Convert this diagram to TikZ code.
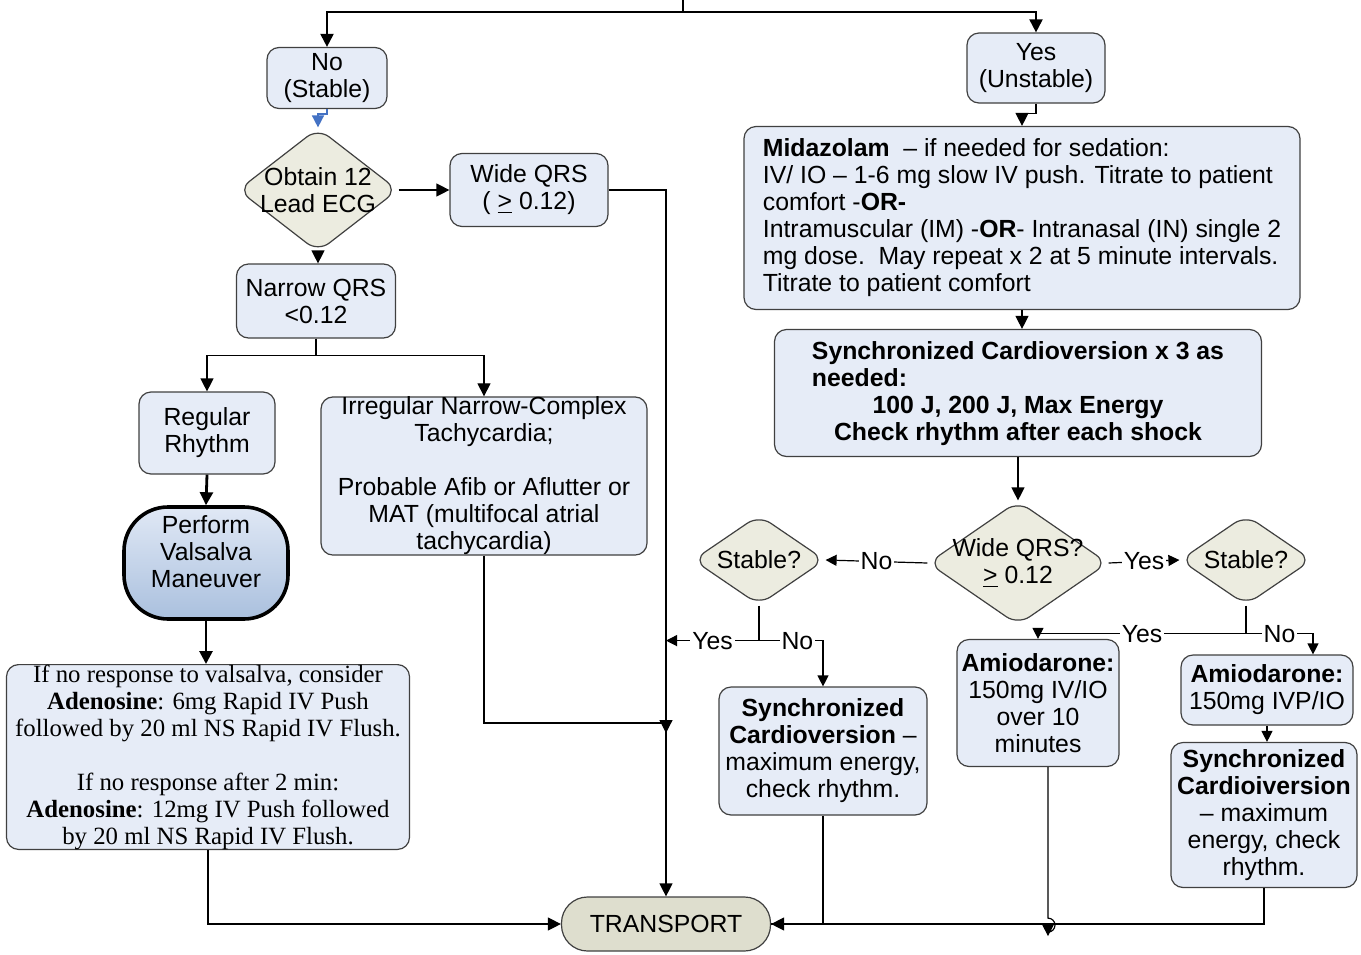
\documentclass[tikz,border=0pt]{standalone}
\usepackage{fontspec}
\setmainfont{Liberation Sans}
\newfontfamily\timesfont{Liberation Serif}
\usepackage{xcolor}
\usetikzlibrary{arrows.meta,shapes.geometric}
\definecolor{boxblue}{RGB}{230,236,247}
\definecolor{ecgbeige}{RGB}{236,236,224}
\definecolor{transbeige}{RGB}{222,222,206}
\definecolor{edgegray}{RGB}{64,64,64}
\definecolor{valtop}{RGB}{224,232,245}
\definecolor{valbot}{RGB}{170,192,222}
\definecolor{tipblue}{RGB}{68,114,196}

\tikzset{
  stepbox/.style={rectangle, rounded corners=6pt, draw=edgegray, line width=0.6pt,
    fill=boxblue, align=center, inner sep=0pt},
  choice/.style={diamond, rounded corners=7pt, draw=edgegray, line width=0.6pt,
    fill=ecgbeige, inner sep=0pt},
  termbox/.style={rectangle, rounded corners=13pt, draw=edgegray, line width=0.6pt,
    fill=transbeige, minimum width=104.5pt, minimum height=27pt},
  valbox/.style={rectangle, rounded corners=22pt, draw=black, line width=1.8pt,
    top color=valtop, bottom color=valbot, align=center,
    minimum width=82pt, minimum height=56pt},
  arrow/.style={draw, line width=0.6pt, -{Triangle[length=6.5pt,width=6.5pt]}},
  arrowsm/.style={draw, line width=0.6pt, -{Triangle[length=5.5pt,width=5.5pt]}},
  lbl/.style={fill=white, inner sep=1pt}
}

\begin{document}
\begin{tikzpicture}[x=0.5pt, y=-0.5pt, font=\fontsize{12.4}{13.5}\selectfont]
\useasboundingbox (0,0) rectangle (1361,954);

% branche gauche
\node[stepbox, minimum width=60pt, minimum height=30.5pt] (stable) at (327,78) {No\\(Stable)};
\node[choice, minimum width=80pt, minimum height=62pt,
  label={[align=center]center:Obtain 12\\Lead ECG}] (ecg) at (318,190) {};
\node[stepbox, minimum width=79pt, minimum height=36.5pt] (wide) at (529,190) {Wide QRS\\( \underline{>} 0.12)};
\node[stepbox, minimum width=79.5pt, minimum height=37pt] (narrow) at (316,301) {Narrow QRS\\<0.12};
\node[stepbox, minimum width=68pt, minimum height=41pt] (regular) at (207,433) {Regular\\Rhythm};
\node[stepbox, minimum width=163pt, minimum height=76.5pt] (irregular) at (484,476)
  {Irregular Narrow-Complex\\Tachycardia;\\[13.5pt]Probable Afib or Aflutter or\\MAT (multifocal atrial\\tachycardia)};
\node[valbox] (valsalva) at (206,563) {Perform\\Valsalva\\Maneuver\\[-2pt]\mbox{}};
\node[stepbox, font=\timesfont\fontsize{12.4}{13.5}\selectfont, minimum width=201.5pt, minimum height=89.5pt] (adeno) at (208,757)
  {If no response to valsalva, consider\\\textbf{Adenosine}: 6mg Rapid IV Push\\followed by 20 ml NS Rapid IV Flush.\\[13.5pt]If no response after 2 min:\\\textbf{Adenosine}: 12mg IV Push followed\\by 20 ml NS Rapid IV Flush.};
\node[termbox] (transport) at (666,924) {TRANSPORT};

% branche droite
\node[stepbox, minimum width=69pt, minimum height=35pt] (unstable) at (1036,68) {Yes\\(Unstable)};
\node[stepbox, align=left, minimum width=278pt, minimum height=91.5pt] (midaz) at (1022,218)
  {\textbf{Midazolam}\ \ -- if needed for sedation:\\IV/ IO -- 1-6 mg slow IV push. Titrate to patient\\comfort -\textbf{OR-}\\Intramuscular (IM) -\textbf{OR}- Intranasal (IN) single 2\\mg dose.\ \ May repeat x 2 at 5 minute intervals.\\Titrate to patient comfort};
\node[stepbox, font=\fontsize{12.4}{13.5}\selectfont\bfseries, minimum width=243.5pt, minimum height=63.5pt] (sync) at (1018,393)
  {\begin{tabular}{@{}l@{}}Synchronized Cardioversion x 3 as\\needed:\end{tabular}\\100 J, 200 J, Max Energy\\Check rhythm after each shock};
\node[choice, minimum width=90pt, minimum height=62pt,
  label={[align=center]center:Wide QRS?\\\underline{>} 0.12}] (wideq) at (1018,563) {};
\node[choice, minimum width=66pt, minimum height=45pt, label=center:Stable?] (stableL) at (759,560) {};
\node[choice, minimum width=66pt, minimum height=45pt, label=center:Stable?] (stableR) at (1246,560) {};
\node[stepbox, minimum width=104pt, minimum height=64pt] (syncL) at (823,751)
  {\textbf{Synchronized}\\\textbf{Cardioversion} --\\maximum energy,\\check rhythm.};
\node[stepbox, minimum width=81pt, minimum height=63.5pt] (amio1) at (1038,703)
  {\textbf{Amiodarone:}\\150mg IV/IO\\over 10\\minutes};
\node[stepbox, minimum width=86pt, minimum height=35pt] (amio2) at (1267,690)
  {\textbf{Amiodarone:}\\150mg IVP/IO};
\node[stepbox, minimum width=93pt, minimum height=72.5pt] (syncR) at (1264,815)
  {\textbf{Synchronized}\\\textbf{Cardioiversion}\\-- maximum\\energy, check\\rhythm.};

\coordinate (top) at (683,0);
\coordinate (merge) at (666,723);

% liaisons
\draw[arrow, line width=1pt] (top) -- ++(0,12) -| (stable.north);
\draw[arrow, line width=1pt] (top) -- ++(0,12) -| (unstable.north);
\draw[draw=tipblue, line width=0.8pt, -{Triangle[length=6pt,width=6pt,color=tipblue]}] (stable.south) -- ++(0,5) -| (ecg.north);
\draw[arrow] (ecg.east) -- (wide.west);
\draw[arrow] (wide.east) -| (transport.north);
\draw[arrow] (ecg.south) -- (ecg.south |- narrow.north);
\draw[arrow] (narrow.south) -- ++(0,17) -| (regular.north);
\draw[arrow] (narrow.south) -- ++(0,17) -| (irregular.north);
\draw[arrow, line width=1.4pt] (regular.south) -- (valsalva.north);
\draw[arrow, line width=1.4pt] (valsalva.south) -- (valsalva.south |- adeno.north);
\draw[arrow] (adeno.south) |- (transport.west);
\draw[line width=0.6pt] (irregular.south) |- (merge);
\draw[arrow] (merge) -- ++(0,10);

\draw[arrow] (unstable.south) -- ++(0,10) -| (midaz.north);
\draw[arrow] (midaz.south) -- (midaz.south |- sync.north);
\draw[arrow] (sync.south) -- (wideq.north);
\draw[arrowsm] (wideq.west) -- node[lbl] {No} (stableL.east);
\draw[arrowsm] (wideq.east) -- node[lbl] {Yes} (stableR.west);
\draw[line width=0.6pt] (stableL.south) -- ++(0,35) coordinate (splitL);
\draw[arrowsm] (splitL) -- node[lbl] {Yes} (splitL -| transport.north);
\draw[arrowsm] (splitL) -| node[lbl, pos=0.3] {No} (syncL.north);
\draw[line width=0.6pt] (stableR.south) -- ++(0,28) coordinate (splitR);
\draw[arrowsm] (splitR) -| node[lbl, pos=0.25] {Yes} (amio1.north);
\draw[arrowsm] (splitR) -| node[lbl, pos=0.25] {No} ([xshift=23pt]amio2.north);
\draw[arrowsm] (amio2.south) -- (amio2.south |- syncR.north);
\draw[line width=0.6pt] (syncL.south) |- (transport.east);
\draw[arrow] (syncR.south) |- (transport.east);
\draw[arrowsm] ([xshift=5pt]amio1.south) -- ++(0,151)
  arc[start angle=90, end angle=-90, radius=3.5pt] -- ++(0,4);
\end{tikzpicture}
\end{document}
